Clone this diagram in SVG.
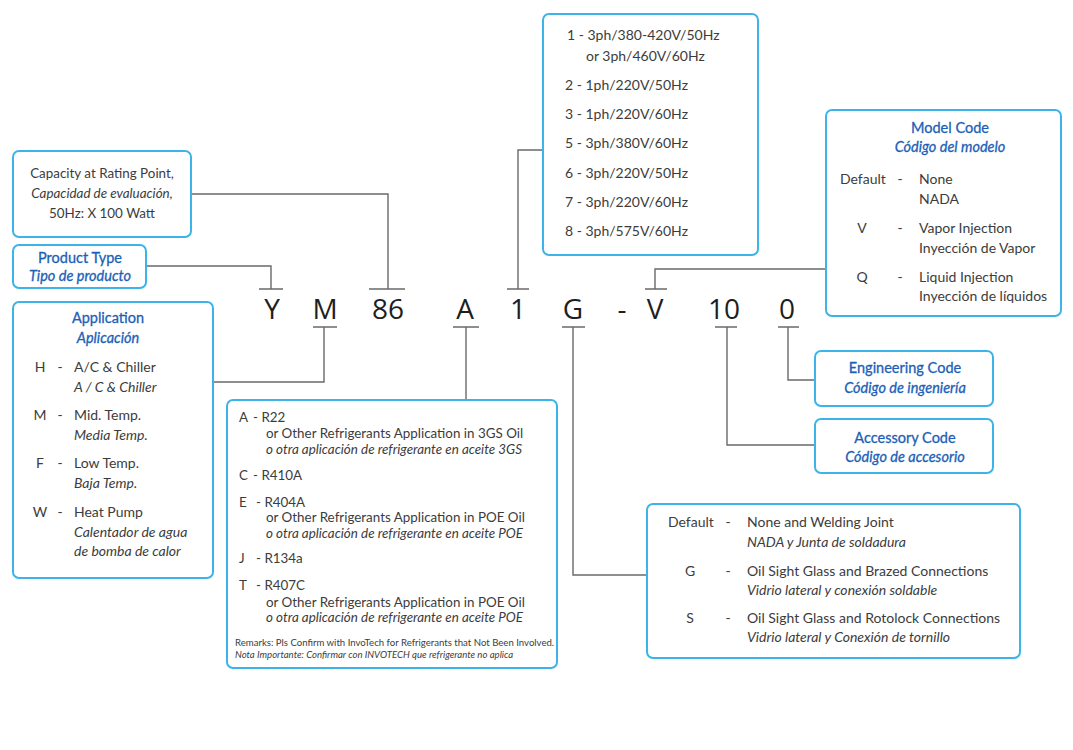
<svg xmlns="http://www.w3.org/2000/svg" width="1073" height="750" viewBox="0 0 1073 750">
<style>
.box{fill:#fff;stroke:#3cb4ea;stroke-width:2}
.t{font-family:Lato,"Liberation Sans",sans-serif;font-size:14px;fill:#3c3c3c}
.i{font-style:italic}
.n{font-size:13.4px}
.ttl{font-family:Lato,"Liberation Sans",sans-serif;font-size:14.5px;fill:#1b5fb8;stroke:#1b5fb8;stroke-width:0.3}
.c{text-anchor:middle}
.sm{font-size:9.6px}
.code{font-family:"Open Sans","Liberation Sans",sans-serif;font-size:28px;fill:#1e1e1e;text-anchor:middle}
.ln{fill:none;stroke:#6a6a6a;stroke-width:1.4}
</style>
<rect width="1073" height="750" fill="#fff"/>
<g id="connectors">
<path class="ln" d="M191,194H388V289M369,289H405"/>
<path class="ln" d="M146,266H271V289M259,289H283"/>
<path class="ln" d="M313,327H337M324,327V382H213"/>
<path class="ln" d="M453,327H479M466,327V400"/>
<path class="ln" d="M507,289H529M518,289V150H543"/>
<path class="ln" d="M562,327H585M573,327V575H647"/>
<path class="ln" d="M645,289H667M655,289V269H826"/>
<path class="ln" d="M715,327H737M727,327V445H815"/>
<path class="ln" d="M778,327H799M788,327V380H815"/>
</g>
<g id="code">
<text class="code" x="272" y="319">Y</text>
<text class="code" x="325" y="319">M</text>
<text class="code" x="388" y="319">86</text>
<text class="code" x="465" y="319">A</text>
<text class="code" x="518" y="319">1</text>
<text class="code" x="573" y="319">G</text>
<text class="code" x="622" y="319">-</text>
<text class="code" x="655" y="319">V</text>
<text class="code" x="724" y="319">10</text>
<text class="code" x="787" y="319">0</text>
</g>
<g id="capacity">
<rect class="box" x="13" y="151" width="178" height="86" rx="6"/>
<text class="t n c" x="102" y="178">Capacity at Rating Point,</text>
<text class="t n c i" x="102" y="198">Capacidad de evaluación,</text>
<text class="t n c" x="102" y="218">50Hz: X 100 Watt</text>
</g>
<g id="product-type">
<rect class="box" x="13" y="245" width="133" height="43" rx="6"/>
<text class="ttl c" x="80" y="263">Product Type</text>
<text class="ttl c i" x="80" y="281">Tipo de producto</text>
</g>
<g id="application">
<rect class="box" x="13" y="302" width="200" height="276" rx="6"/>
<text class="ttl c" x="108" y="323">Application</text>
<text class="ttl c i" x="108" y="343">Aplicación</text>
<text class="t c" x="40" y="372">H</text><text class="t c" x="60" y="372">-</text>
<text class="t" x="74" y="372">A/C &amp; Chiller</text>
<text class="t i" x="74" y="392">A / C &amp; Chiller</text>
<text class="t c" x="40" y="420">M</text><text class="t c" x="60" y="420">-</text>
<text class="t" x="74" y="420">Mid. Temp.</text>
<text class="t i" x="74" y="440">Media Temp.</text>
<text class="t c" x="40" y="468">F</text><text class="t c" x="60" y="468">-</text>
<text class="t" x="74" y="468">Low Temp.</text>
<text class="t i" x="74" y="488">Baja Temp.</text>
<text class="t c" x="40" y="517">W</text><text class="t c" x="60" y="517">-</text>
<text class="t" x="74" y="517">Heat Pump</text>
<text class="t i" x="74" y="537">Calentador de agua</text>
<text class="t i" x="74" y="556">de bomba de calor</text>
</g>
<g id="refrigerant">
<rect class="box" x="227" y="400" width="330" height="268" rx="6"/>
<text class="t n" x="239" y="422">A</text><text class="t n" x="253" y="422">- R22</text>
<text class="t n" x="266" y="438">or Other Refrigerants Application in 3GS Oil</text>
<text class="t n i" x="266" y="454">o otra aplicación de refrigerante en aceite 3GS</text>
<text class="t n" x="239" y="480">C</text><text class="t n" x="253" y="480">- R410A</text>
<text class="t n" x="239" y="507">E</text><text class="t n" x="256" y="507">- R404A</text>
<text class="t n" x="266" y="522">or Other Refrigerants Application in POE Oil</text>
<text class="t n i" x="266" y="538">o otra aplicación de refrigerante en aceite POE</text>
<text class="t n" x="239" y="563">J</text><text class="t n" x="256" y="563">- R134a</text>
<text class="t n" x="239" y="590">T</text><text class="t n" x="256" y="590">- R407C</text>
<text class="t n" x="266" y="607">or Other Refrigerants Application in POE Oil</text>
<text class="t n i" x="266" y="622">o otra aplicación de refrigerante en aceite POE</text>
<text class="t sm" x="235" y="646">Remarks: Pls Confirm with InvoTech for Refrigerants that Not Been Involved.</text>
<text class="t sm i" x="235" y="658">Nota Importante: Confirmar con INVOTECH que refrigerante no aplica</text>
</g>
<g id="voltage">
<rect class="box" x="543" y="14" width="215" height="241" rx="6"/>
<text class="t" x="567" y="40">1 - 3ph/380-420V/50Hz</text>
<text class="t" x="586" y="61">or 3ph/460V/60Hz</text>
<text class="t" x="565" y="90">2 - 1ph/220V/50Hz</text>
<text class="t" x="565" y="119">3 - 1ph/220V/60Hz</text>
<text class="t" x="565" y="148">5 - 3ph/380V/60Hz</text>
<text class="t" x="565" y="178">6 - 3ph/220V/50Hz</text>
<text class="t" x="565" y="207">7 - 3ph/220V/60Hz</text>
<text class="t" x="565" y="236">8 - 3ph/575V/60Hz</text>
</g>
<g id="model-code">
<rect class="box" x="826" y="110" width="235" height="206" rx="6"/>
<text class="ttl c" x="950" y="133">Model Code</text>
<text class="ttl c i" x="950" y="152">Código del modelo</text>
<text class="t" x="840" y="184">Default</text><text class="t c" x="900" y="184">-</text>
<text class="t" x="919" y="184">None</text>
<text class="t" x="919" y="204">NADA</text>
<text class="t c" x="862" y="233">V</text><text class="t c" x="900" y="233">-</text>
<text class="t" x="919" y="233">Vapor Injection</text>
<text class="t" x="919" y="253">Inyección de Vapor</text>
<text class="t c" x="862" y="282">Q</text><text class="t c" x="900" y="282">-</text>
<text class="t" x="919" y="282">Liquid Injection</text>
<text class="t" x="919" y="301">Inyección de líquidos</text>
</g>
<g id="engineering-code">
<rect class="box" x="815" y="351" width="178" height="55" rx="6"/>
<text class="ttl c" x="905" y="373">Engineering Code</text>
<text class="ttl c i" x="905" y="393">Código de ingeniería</text>
</g>
<g id="accessory-code">
<rect class="box" x="815" y="419" width="178" height="54" rx="6"/>
<text class="ttl c" x="905" y="443">Accessory Code</text>
<text class="ttl c i" x="905" y="462">Código de accesorio</text>
</g>
<g id="connections">
<rect class="box" x="647" y="504" width="373" height="154" rx="6"/>
<text class="t" x="668" y="527">Default</text><text class="t c" x="728" y="527">-</text>
<text class="t" x="747" y="527">None and Welding Joint</text>
<text class="t i" x="747" y="547">NADA y Junta de soldadura</text>
<text class="t c" x="690" y="576">G</text><text class="t c" x="728" y="576">-</text>
<text class="t" x="747" y="576">Oil Sight Glass and Brazed Connections</text>
<text class="t i" x="747" y="595">Vidrio lateral y conexión soldable</text>
<text class="t c" x="690" y="623">S</text><text class="t c" x="728" y="623">-</text>
<text class="t" x="747" y="623">Oil Sight Glass and Rotolock Connections</text>
<text class="t i" x="747" y="642">Vidrio lateral y Conexión de tornillo</text>
</g>
</svg>
